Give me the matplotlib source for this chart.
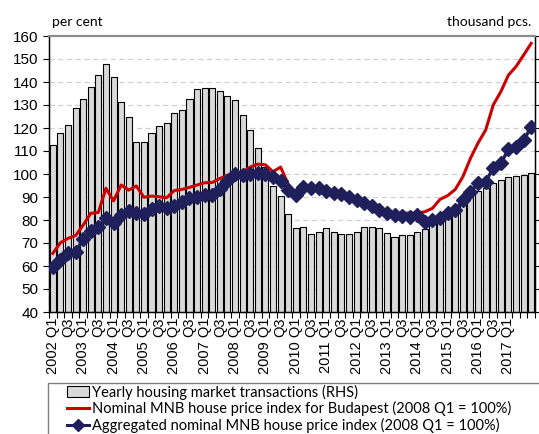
import matplotlib
matplotlib.use("Agg")
import matplotlib.pyplot as plt
from matplotlib.patches import Rectangle, Patch
from matplotlib.lines import Line2D
import numpy as np

# ---------------- data ----------------
years = list(range(2002, 2018))
quarters = [f"{y} Q{q}" for y in years for q in (1, 2, 3, 4)]

# Yearly housing market transactions (thousand pcs., RHS)
transactions = [165, 176, 183, 197, 205, 216, 226, 236, 224, 203, 190, 168,
                168, 176, 182, 184, 193, 196, 205, 214, 215, 215, 212, 208,
                204, 191, 178, 163, 146, 130, 121, 105, 93, 94, 88, 90,
                93, 90, 88, 88, 90, 94, 94, 93, 89, 85, 87, 87,
                90, 92, 97, 99, 102, 106, 114, 120, 125, 128, 132, 135,
                137, 138, 139, 141]

# Nominal MNB house price index for Budapest (2008 Q1 = 100%)
budapest = [65.5, 70.1, 72.0, 73.2, 77.8, 82.9, 83.3, 93.8, 88.3, 95.2, 93.0, 94.8,
            89.9, 90.4, 90.1, 89.7, 92.8, 93.3, 94.2, 95.2, 96.2, 96.3, 98.0, 99.5,
            100.0, 101.0, 103.0, 104.3, 104.0, 101.0, 103.0, 95.5, 91.5, 93.5, 93.5, 93.0,
            92.5, 91.5, 90.5, 90.0, 88.5, 87.5, 86.0, 84.5, 83.5, 83.0, 83.0, 83.0,
            82.9, 83.6, 85.1, 89.0, 90.6, 93.3, 98.8, 106.8, 113.5, 119.1, 130.0, 135.8,
            143.0, 146.7, 151.7, 156.8]

# Aggregated nominal MNB house price index (2008 Q1 = 100%)
aggregate = [59.7, 62.6, 65.5, 66.2, 71.6, 75.2, 77.1, 80.7, 78.8, 82.2, 83.9, 82.9,
             82.5, 84.6, 86.1, 85.3, 86.1, 88.0, 89.7, 90.1, 90.9, 90.7, 93.5, 97.0,
             100.0, 99.6, 99.8, 100.6, 99.8, 98.8, 97.0, 93.0, 91.0, 94.3, 93.8, 93.8,
             92.5, 91.7, 91.2, 90.0, 88.5, 87.5, 86.0, 84.5, 83.0, 82.3, 81.8, 81.4,
             82.2, 79.3, 80.0, 80.7, 82.9, 84.3, 88.7, 92.3, 96.0, 96.7, 102.5, 104.6,
             110.7, 111.6, 114.8, 120.3]

# tick labels every second quarter (last one is not shown in the original)
tick_labels = []
for i, q in enumerate(quarters):
    y, qq = q.split()
    if i % 2 == 0 and i < 62:
        tick_labels.append(q if qq == "Q1" else qq)
    else:
        tick_labels.append("")

legend_labels = ["Yearly housing market transactions (RHS)",
                 "Nominal MNB house price index for Budapest (2008 Q1 = 100%)",
                 "Aggregated nominal MNB house price index (2008 Q1 = 100%)"]

# ---------------- figure ----------------
W, H = 539, 434
fig = plt.figure(figsize=(W / 100, H / 100), dpi=100)
ax_l, ax_r, ax_t, ax_b = 49, 535, 36, 312
ax = fig.add_axes([ax_l / W, 1 - ax_b / H, (ax_r - ax_l) / W, (ax_b - ax_t) / H])
ax2 = ax.twinx()

x = np.arange(len(quarters))
n = len(quarters)

# bars on the right axis (drawn below the lines)
ax2.bar(x + 0.12, transactions, width=0.8, bottom=0, color="#7f7f7f",
        edgecolor="none", zorder=1)
ax2.bar(x, transactions, width=0.8, color="#d9d9d9", edgecolor="#000000",
        linewidth=0.8, zorder=2)
ax2.set_ylim(20, 260)
ax2.set_yticks(np.arange(20, 261, 20))
ax2.tick_params(axis="y", right=True, labelright=False, direction="out",
                length=4, width=0.8)

# lines on the left axis, placed above the bars
ax.set_zorder(ax2.get_zorder() + 1)
ax.patch.set_visible(False)

ax.plot(x, budapest, color="#cc0000", linewidth=2.2, zorder=4, solid_joinstyle="round")
ax.plot(x, aggregate, color="#1f1f5c", linewidth=2.4, marker="D", markersize=7,
        markeredgecolor="#1f1f5c", zorder=5)

ax.set_ylim(40, 160)
ax.set_yticks(np.arange(40, 161, 10))
ax.set_xlim(-0.5, n - 0.5)

# gridlines drawn on the bar axis so they sit behind bars
for v in np.arange(50, 160, 10):
    yy = 20 + (v - 40) * 2
    ax2.axhline(yy, color="#d0d0d0", linewidth=0.9, linestyle=(0, (4, 3)), zorder=0)

# x ticks: tick marks at category boundaries, labels at centers
ax.set_xticks(np.arange(-0.5, n, 1.0))
ax.set_xticklabels([])
ax.set_xticks(x, minor=True)
ax.set_xticklabels(tick_labels, minor=True, rotation=90, fontsize=10.5,
                   family="Liberation Sans")
ax.tick_params(axis="x", which="major", length=4, width=0.8, direction="out")
ax.tick_params(axis="x", which="minor", length=0, pad=4)
ax.tick_params(axis="y", which="major", length=4, width=0.8, direction="out",
               labelsize=11)
for lab in ax.get_yticklabels():
    lab.set_family("Liberation Sans")

for sp in ("left", "bottom", "right"):
    ax.spines[sp].set_color("black")
    ax.spines[sp].set_linewidth(1.0)
    ax2.spines[sp].set_color("black")
ax.spines["top"].set_color("#8c8c8c")
ax.spines["top"].set_linewidth(1.6)
ax2.spines["top"].set_visible(False)

# axis unit labels
fig.text(52 / W, 1 - 22 / H, "per cent", fontsize=10, family="Lato",
         ha="left", va="center")
fig.text(531 / W, 1 - 22 / H, "thousand pcs.", fontsize=10, family="Lato",
         ha="right", va="center")

# legend with manual frame (open at the bottom/right edge, as in the original)
fig.patches.append(Rectangle((48 / W, -0.1), 1.0, (1 - 383 / H) + 0.1,
                             transform=fig.transFigure, facecolor="white",
                             edgecolor="#7f7f7f", linewidth=1.0))
handles = [Patch(facecolor="#d9d9d9", edgecolor="#000000", linewidth=0.8),
           Line2D([], [], color="#cc0000", linewidth=2.2),
           Line2D([], [], color="#1f1f5c", linewidth=2.2, marker="D",
                  markersize=6)]
leg = fig.legend(handles, legend_labels, loc="upper left",
                 bbox_to_anchor=(66 / W, 1 - 383 / H), frameon=False,
                 prop={"family": "Lato", "size": 10.5}, handlelength=1.5,
                 handletextpad=0.15, labelspacing=0.12, borderaxespad=0,
                 borderpad=0.1)

fig.savefig("out.png", dpi=100)
